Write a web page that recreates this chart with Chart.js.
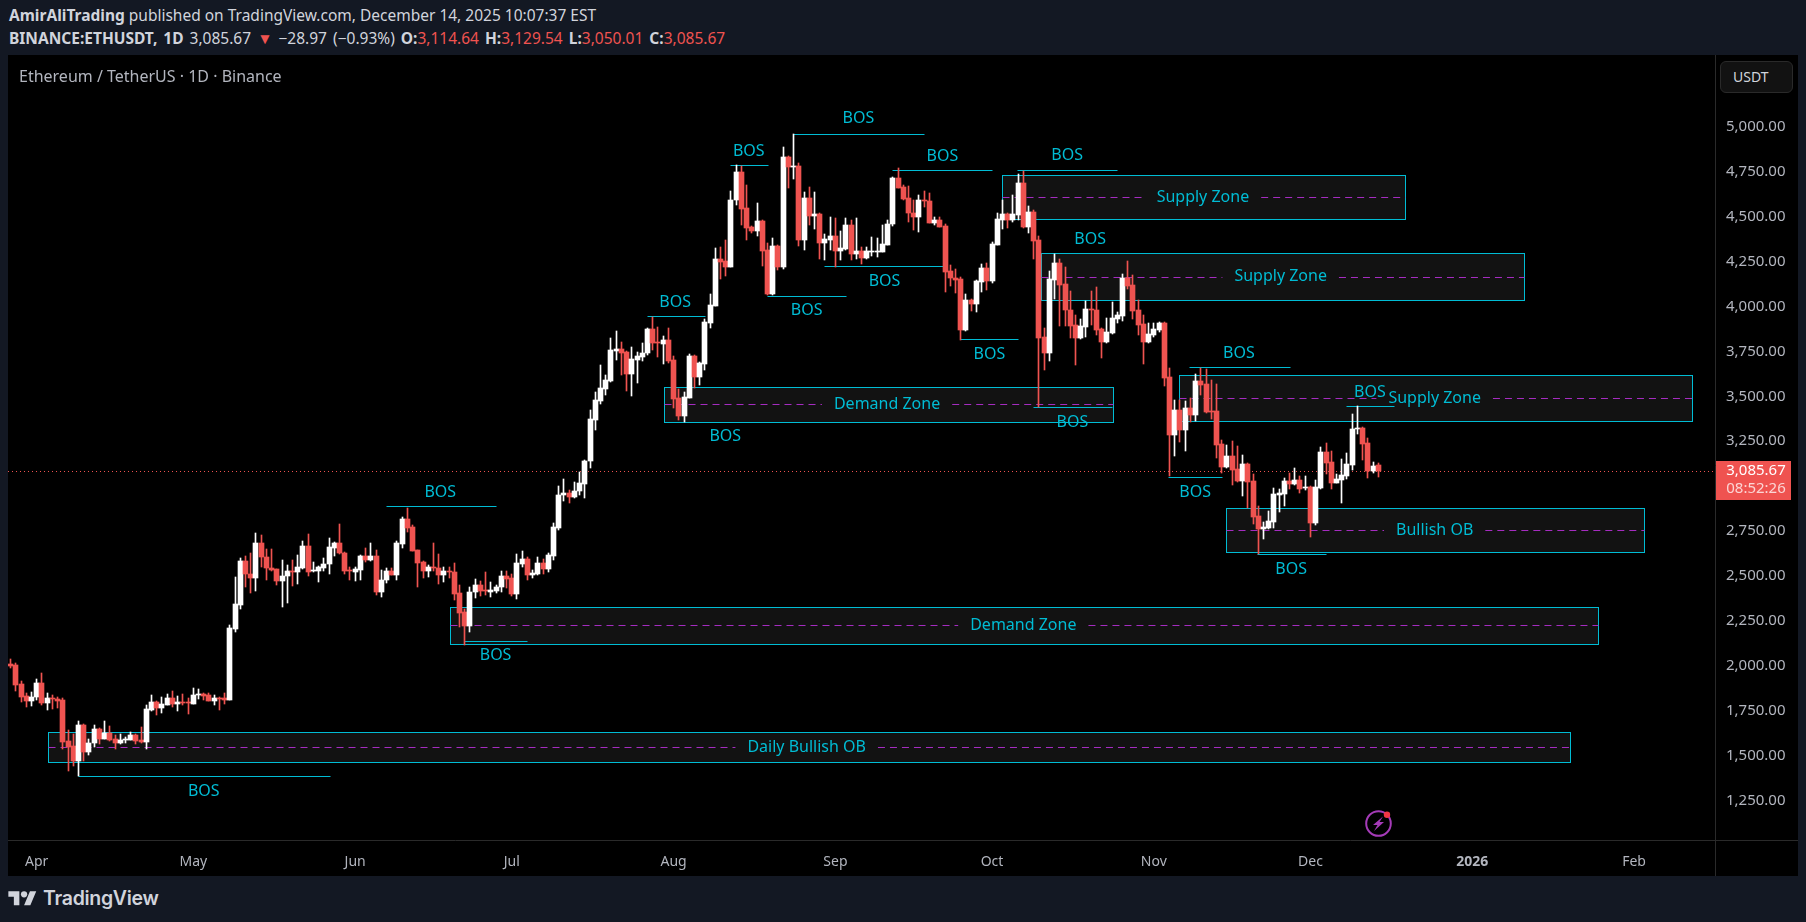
<!DOCTYPE html>
<html>
<head>
<meta charset="utf-8">
<title>ETHUSDT 1D</title>
<script src="https://cdn.jsdelivr.net/npm/chart.js@4/dist/chart.umd.min.js"></script>
<style>
    html, body { margin: 0; padding: 0; width: 1806px; height: 922px; overflow: hidden; background: #131823; }
    body { font-family: "Noto Sans", sans-serif; color: #d1d4dc; }
    #line1, #line2 { position: absolute; left: 9px; font-size: 15.5px; white-space: nowrap; line-height: 20px; }
    #line1 { top: 5px; }
    #line2 { top: 28px; word-spacing: 2px; }
    #panel { position: absolute; left: 8px; top: 55px; width: 1790px; height: 821px; background: #000; }
    #chart { position: absolute; left: 8px; top: 55px; }
    #title { position: absolute; left: 19px; top: 66px; font-size: 16px; color: #b2b5be; line-height: 20px; }
    #unit { position: absolute; left: 1720px; top: 61px; width: 59px; height: 30px; padding-left: 12px; border: 1px solid #2a2a2a; border-radius: 6px; background: #121212; font-size: 14px; line-height: 30px; color: #d1d4dc; }
    #logo { position: absolute; left: 8px; top: 888px; }
    #logoText { position: absolute; left: 43px; top: 884px; font-family: Inter, sans-serif; font-size: 19.5px; font-weight: 600; line-height: 28px; color: #d1d4dc; letter-spacing: -0.3px; }
    #bolt { position: absolute; left: 1362px; top: 808px; }
    b { font-weight: 700; }
    .down { color: #ef5350; }
</style>
</head>
<body>
<div id="line1"><b>AmirAliTrading</b> published on TradingView.com, December 14, 2025 10:07:37 EST</div>
<div id="line2"><b>BINANCE:ETHUSDT, 1D</b> 3,085.67 <span class="down">▼</span> −28.97 (−0.93%) <b>O:</b><span class="down">3,114.64</span> <b>H:</b><span class="down">3,129.54</span> <b>L:</b><span class="down">3,050.01</span> <b>C:</b><span class="down">3,085.67</span></div>
<div id="panel"></div>
<canvas id="chart" width="1790" height="821"></canvas>
<div id="title">Ethereum / TetherUS · 1D · Binance</div>
<div id="unit">USDT</div>
<svg id="logo" width="29" height="22" viewBox="0 0 36 28"><path fill="#d1d4dc" d="M14 22H7V11H0V4h14v18zM28 22h-8l7.5-18h8L28 22z"/><circle fill="#d1d4dc" cx="20" cy="8" r="4"/></svg>
<div id="logoText">TradingView</div>
<svg id="bolt" width="34" height="32" viewBox="0 0 34 32">
    <circle cx="16.5" cy="15.5" r="12.3" fill="none" stroke="#a53bb8" stroke-width="2"/>
    <path fill="#a53bb8" d="M21 8.5 L11 17 L15.5 17 L12 23 L22 14 L17.5 14 Z"/>
    <circle cx="25" cy="6.8" r="3.2" fill="#f23645"/>
</svg>
<script>
// days counted from Apr 1 2025, first candle is Mar 27, last is Dec 14
const firstDay = -5
const days = Array.from({ length: 327 }, (_, i) => i + firstDay)

const opens = [
    2010,2003,1897,1830,1804,1824,1904,1793,1821,1818,
    1808,1580,1552,1470,1671,1520,1568,1648,1593,1626,
    1590,1570,1587,1587,1615,1587,1577,1755,1799,1765,
    1784,1821,1788,1799,1799,1790,1838,1843,1836,1804,
    1821,1820,1810,2207,2340,2583,2513,2489,2683,2608,
    2547,2537,2472,2497,2528,2522,2547,2667,2526,2530,
    2547,2564,2658,2683,2630,2532,2523,2535,2611,2589,
    2611,2411,2475,2528,2505,2680,2817,2770,2642,2575,
    2528,2550,2544,2505,2528,2522,2403,2297,2221,2408,
    2450,2421,2413,2418,2436,2500,2486,2400,2568,2594,
    2506,2513,2572,2539,2613,2769,2948,2962,2939,2970,
    3014,3137,3370,3476,3543,3587,3754,3763,3744,3624,
    3704,3720,3738,3874,3801,3793,3813,3700,3488,3390,
    3492,3724,3607,3682,3910,4005,4264,4250,4221,4590,
    4748,4545,4440,4422,4475,4312,4069,4336,4219,4831,
    4776,4781,4370,4603,4505,4514,4353,4372,4392,4308,
    4320,4453,4292,4308,4269,4303,4304,4304,4344,4456,
    4715,4662,4601,4522,4497,4592,4587,4464,4481,4445,
    4195,4160,4150,3869,4036,4013,4138,4214,4141,4344,
    4483,4514,4481,4511,4687,4442,4525,4367,3827,3740,
    4149,4241,4122,3982,3894,3824,3887,3985,3980,3872,
    3801,3854,3932,3948,4158,4117,3978,3900,3801,3842,
    3870,3907,3605,3284,3423,3312,3434,3395,3585,3566,
    3416,3416,3232,3106,3167,3093,3028,3123,3026,2831,
    2764,2768,2802,2952,2958,3028,3011,3034,2988,2995,
    2794,2991,3189,3132,3017,3036,3058,3120,3318,3323,
    3238,3085,3114.64
]
const highs = [
    2038,2014,1915,1849,1852,1927,1960,1849,1838,1826,
    1821,1643,1620,1693,1675,1593,1671,1654,1693,1665,
    1615,1620,1604,1632,1620,1659,1782,1838,1804,1826,
    1843,1860,1832,1843,1821,1876,1871,1849,1849,1838,
    1826,1849,2227,2494,2600,2611,2628,2739,2728,2650,
    2650,2540,2589,2561,2589,2617,2695,2734,2578,2556,
    2600,2711,2689,2789,2636,2550,2550,2617,2656,2683,
    2644,2533,2544,2544,2695,2828,2878,2784,2646,2583,
    2561,2683,2622,2550,2550,2572,2450,2316,2439,2483,
    2472,2522,2466,2450,2528,2528,2511,2622,2639,2605,
    2533,2605,2594,2628,2795,3001,3040,2978,3023,3079,
    3145,3424,3524,3674,3618,3824,3863,3802,3752,3774,
    3746,3796,3880,3943,3885,3835,3880,3724,3540,3524,
    3735,3728,3690,3930,4069,4325,4331,4370,4642,4787,
    4781,4676,4447,4575,4480,4353,4381,4342,4887,4835,
    4958,4798,4637,4664,4637,4518,4403,4498,4492,4420,
    4492,4481,4492,4331,4331,4386,4381,4453,4481,4720,
    4770,4676,4670,4592,4620,4642,4631,4498,4498,4459,
    4230,4208,4164,4069,4040,4147,4236,4241,4358,4520,
    4592,4518,4620,4737,4753,4559,4536,4391,3879,4197,
    4291,4263,4219,4085,3952,3930,4030,4085,4108,3878,
    3935,4024,3968,4180,4252,4174,4035,3952,3907,3907,
    3913,3913,3657,3479,3479,3473,3490,3623,3657,3651,
    3590,3568,3256,3228,3251,3223,3173,3128,3067,2889,
    2800,2861,2989,2983,3045,3073,3100,3056,3056,3000,
    3034,3217,3239,3195,3067,3150,3184,3401,3445,3329,
    3267,3134,3129.54
]
const lows = [
    1988,1862,1800,1773,1776,1810,1782,1754,1760,1765,
    1537,1415,1442,1387,1470,1504,1548,1565,1590,1583,
    1537,1565,1570,1585,1565,1570,1537,1749,1726,1737,
    1780,1771,1749,1782,1732,1786,1815,1810,1802,1782,
    1754,1788,1808,2188,2316,2439,2405,2416,2550,2478,
    2530,2450,2327,2350,2444,2455,2540,2500,2520,2466,
    2528,2511,2611,2622,2511,2478,2472,2478,2578,2583,
    2394,2383,2461,2503,2478,2656,2745,2637,2439,2489,
    2494,2528,2455,2466,2489,2366,2218,2116,2188,2377,
    2388,2394,2383,2405,2411,2433,2388,2372,2550,2477,
    2489,2503,2511,2522,2589,2756,2917,2906,2935,2951,
    2934,3101,3312,3457,3507,3579,3702,3618,3529,3501,
    3574,3696,3730,3757,3718,3680,3685,3435,3368,3357,
    3488,3546,3563,3646,3880,4000,4152,4169,4218,4564,
    4453,4370,4410,4392,4225,4065,4063,4203,4208,4659,
    4709,4336,4314,4453,4431,4264,4258,4314,4219,4258,
    4314,4258,4264,4236,4265,4280,4275,4300,4340,4450,
    4657,4592,4470,4425,4414,4553,4462,4453,4440,4080,
    4113,4075,3813,3865,3974,3969,4080,4091,4130,4340,
    4431,4436,4470,4481,4436,4408,4263,3440,3646,3696,
    4041,3891,3891,3824,3674,3818,3829,3896,3840,3712,
    3796,3846,3907,3918,4096,3930,3840,3679,3796,3829,
    3857,3557,3056,3167,3245,3195,3356,3362,3507,3406,
    3373,3156,3072,3100,3006,3022,2945,2878,2789,2622,
    2705,2764,2766,2855,2889,2983,3008,2961,2978,2716,
    2783,2983,3067,2983,3015,2906,3039,3089,3290,3145,
    3045,3075,3050.01
]
const closes = [
    2000,1893,1826,1804,1826,1904,1793,1821,1816,1804,
    1576,1550,1470,1671,1520,1570,1648,1593,1626,1587,
    1570,1587,1593,1615,1582,1577,1760,1799,1765,1788,
    1821,1788,1799,1794,1793,1838,1843,1834,1804,1821,
    1815,1810,2210,2344,2583,2511,2489,2683,2606,2544,
    2533,2472,2500,2528,2522,2550,2667,2522,2533,2550,
    2567,2661,2683,2628,2528,2526,2539,2611,2589,2611,
    2411,2478,2528,2505,2683,2817,2767,2639,2572,2528,
    2550,2545,2505,2528,2522,2400,2294,2221,2411,2450,
    2416,2416,2422,2439,2500,2484,2400,2572,2594,2505,
    2516,2572,2539,2617,2772,2951,2962,2939,2973,3017,
    3140,3373,3479,3546,3590,3757,3763,3741,3624,3707,
    3724,3741,3874,3796,3797,3813,3696,3485,3390,3496,
    3724,3607,3685,3913,4008,4264,4248,4221,4592,4748,
    4542,4436,4420,4475,4308,4069,4336,4219,4831,4776,
    4781,4370,4603,4503,4514,4353,4375,4392,4308,4325,
    4453,4292,4308,4269,4308,4308,4308,4347,4459,4715,
    4659,4598,4520,4497,4592,4587,4464,4481,4442,4191,
    4158,4147,3869,4036,4013,4141,4214,4141,4347,4486,
    4514,4481,4514,4687,4442,4525,4364,3824,3740,4152,
    4241,4119,3980,3891,3824,3891,3985,3980,3868,3801,
    3857,3935,3952,4158,4113,3974,3896,3801,3846,3874,
    3907,3601,3284,3423,3312,3434,3395,3585,3562,3412,
    3412,3228,3106,3167,3089,3028,3123,3022,2828,2761,
    2772,2805,2956,2961,3028,3011,3034,2983,2995,2794,
    2995,3189,3128,3017,3039,3061,3123,3317,3323,3234,
    3085,3114,3085.67
]

const priceTicks = [5000, 4750, 4500, 4250, 4000, 3750, 3500, 3250, 2750, 2500, 2250, 2000, 1750, 1500, 1250]
const tickDays = [0, 30, 61, 91, 122, 153, 183, 214, 244, 275, 306]
const tickNames = ['Apr', 'May', 'Jun', 'Jul', 'Aug', 'Sep', 'Oct', 'Nov', 'Dec', '2026', 'Feb']

const lastPrice = 3085.67
const lastPriceText = '3,085.67'
const countdownText = '08:52:26'

// supply / demand boxes drawn on the chart
const zoneText = ['Daily Bullish OB', 'Demand Zone', 'Demand Zone', 'Supply Zone', 'Supply Zone', 'Supply Zone', 'Bullish OB']
const zoneStart = [2.2, 79.1, 120.1, 185, 192.3, 218.9, 227.9]
const zoneEnd = [293.8, 299, 206.1, 262.1, 285, 317, 307.9]
const zoneTop = [1630, 2325, 3550, 4729, 4295, 3616, 2876]
const zoneBottom = [1463, 2119, 3359, 4484, 4037, 3360, 2631]
const zoneMid = [1546, 2225, 3455, 4607, 4165, 3488, 2753]
const zoneTextDay = [147.5, 189, 162.9, 223.4, 238.3, 267.8, 267.8]

// break of structure lines, null means only the text is there
const bosStart = [7.9, 66.9, 81.8, 116.9, null, 132.8, 144.9, 163.9, 187.8, 139.9, 150.8, 176.9, 190.8, null, 220.8, 216.8, 250.8, 233.8]
const bosEnd = [56.1, 88, 94, 128, null, 140, 170, 183, 207, 155, 173.6, 188, 206, null, 240, 227, 260, 246.9]
const bosPrice = [1385, 2887, 2136, 3945, null, 4785, 4958, 4757, 4757, 4056, 4223, 3817, 3440, null, 3661, 3048, 3444, 2620]
const bosTextDay = [32, 77.3, 87.9, 122.3, 131.9, 136.4, 157.4, 173.5, 197.4, 147.5, 162.4, 182.5, 198.4, 201.8, 230.3, 221.9, 255.4, 240.3]
const bosTextPrice = [1303, 2967, 2058, 4024, 3276, 4862, 5044, 4836, 4842, 3976, 4139, 3735, 3356, 4374, 3740, 2966, 3523, 2538]

const upColor = '#ffffff'
const downColor = '#ef5350'
const drawColor = '#00bcd4'
const candleColors = opens.map((o, i) => closes[i] >= o ? upColor : downColor)
const axisFont = '"Noto Sans", sans-serif'

// keep candles on whole pixels, otherwise the 1px wicks go blurry
const snapCandles = {
    id: 'snapCandles',
    beforeDatasetDraw(chart, args) {
        args.meta.data.forEach(bar => {
            bar.x = Math.floor(bar.x) + 0.5
            bar.y = Math.round(bar.y)
            bar.base = Math.round(bar.base)
            if (bar.y === bar.base) bar.base = bar.y + 1
        })
    }
}

const drawings = {
    id: 'drawings',
    beforeDatasetsDraw(chart) {
        const { ctx, scales: { x, y }, chartArea } = chart
        const dayX = d => Math.round(x.getPixelForValue(d - firstDay)) + 0.5
        const priceY = p => Math.round(y.getPixelForValue(p)) + 0.5

        ctx.save()
        ctx.font = '16px ' + axisFont
        ctx.textAlign = 'center'
        ctx.textBaseline = 'middle'
        ctx.lineWidth = 1

        zoneText.forEach((text, i) => {
            const left = dayX(zoneStart[i])
            const right = dayX(zoneEnd[i])
            const top = priceY(zoneTop[i])
            const bottom = priceY(zoneBottom[i])
            const mid = priceY(zoneMid[i])
            const textX = x.getPixelForValue(zoneTextDay[i] - firstDay)
            const gap = ctx.measureText(text).width / 2 + 12

            ctx.fillStyle = '#121212'
            ctx.fillRect(left, top, right - left, bottom - top)
            ctx.strokeStyle = drawColor
            ctx.setLineDash([])
            ctx.strokeRect(left, top, right - left, bottom - top)

            ctx.strokeStyle = '#a52cc0'
            ctx.setLineDash([7, 5])
            ctx.beginPath()
            ctx.moveTo(left, mid)
            ctx.lineTo(textX - gap, mid)
            ctx.moveTo(textX + gap, mid)
            ctx.lineTo(right, mid)
            ctx.stroke()

            ctx.fillStyle = drawColor
            ctx.fillText(text, textX, y.getPixelForValue(zoneMid[i]))
        })

        ctx.setLineDash([])
        ctx.strokeStyle = drawColor
        ctx.fillStyle = drawColor
        bosTextDay.forEach((day, i) => {
            if (bosStart[i] !== null) {
                ctx.beginPath()
                ctx.moveTo(dayX(bosStart[i]), priceY(bosPrice[i]))
                ctx.lineTo(dayX(bosEnd[i]), priceY(bosPrice[i]))
                ctx.stroke()
            }
            ctx.fillText('BOS', x.getPixelForValue(day - firstDay), y.getPixelForValue(bosTextPrice[i]))
        })

        // dotted last price line
        ctx.strokeStyle = downColor
        ctx.setLineDash([1, 3])
        ctx.beginPath()
        ctx.moveTo(chartArea.left, priceY(lastPrice))
        ctx.lineTo(chartArea.right, priceY(lastPrice))
        ctx.stroke()
        ctx.restore()
    },
    afterDraw(chart) {
        const { ctx, scales: { y }, chartArea, width, height } = chart

        ctx.save()
        ctx.strokeStyle = '#2a2a2a'
        ctx.lineWidth = 1
        ctx.beginPath()
        ctx.moveTo(0, chartArea.bottom + 0.5)
        ctx.lineTo(width, chartArea.bottom + 0.5)
        ctx.moveTo(chartArea.right + 0.5, 0)
        ctx.lineTo(chartArea.right + 0.5, height)
        ctx.stroke()

        // last price tag on the axis
        const tagY = y.getPixelForValue(lastPrice)
        ctx.fillStyle = downColor
        ctx.fillRect(chartArea.right + 1, Math.round(tagY) - 10, 75, 39)
        ctx.font = '15px ' + axisFont
        ctx.textAlign = 'center'
        ctx.textBaseline = 'middle'
        ctx.fillStyle = '#ffffff'
        ctx.fillText(lastPriceText, chartArea.right + 41, tagY)
        ctx.fillStyle = '#fbd5d4'
        ctx.fillText(countdownText, chartArea.right + 41, tagY + 18)
        ctx.restore()
    }
}

new Chart(document.getElementById('chart'), {
    type: 'bar',
    data: {
        labels: days,
        datasets: [
            {
                label: 'Wick',
                data: opens.map((_, i) => [lows[i], highs[i]]),
                backgroundColor: candleColors,
                barThickness: 1,
                grouped: false,
                order: 2
            },
            {
                label: 'Body',
                data: opens.map((o, i) => [o, closes[i]]),
                backgroundColor: candleColors,
                barThickness: 5,
                minBarLength: 1,
                grouped: false,
                order: 1
            }
        ]
    },
    options: {
        responsive: false,
        animation: false,
        layout: { padding: 0 },
        plugins: { legend: { display: false }, tooltip: { enabled: false } },
        scales: {
            x: {
                grid: { display: false },
                border: { display: false },
                afterFit(scale) {
                    scale.height = 36
                    scale.paddingLeft = 0
                    scale.paddingRight = 0
                },
                ticks: {
                    autoSkip: false,
                    maxRotation: 0,
                    padding: 6,
                    color: '#b2b5be',
                    font: ctx => ({
                        family: axisFont,
                        size: 14,
                        weight: ctx.tick && ctx.tick.label === '2026' ? 'bold' : 'normal'
                    }),
                    callback(value) {
                        const at = tickDays.indexOf(value + firstDay)
                        return at === -1 ? '' : tickNames[at]
                    }
                }
            },
            y: {
                position: 'right',
                min: 1030.6,
                max: 5399,
                grid: { display: false },
                border: { display: false },
                afterBuildTicks(scale) {
                    scale.ticks = priceTicks.map(value => ({ value }))
                },
                afterFit(scale) {
                    scale.width = 83
                    scale.paddingTop = 0
                    scale.paddingBottom = 0
                },
                ticks: {
                    padding: 3,
                    color: '#b2b5be',
                    font: { family: axisFont, size: 15 },
                    callback(value) {
                        return value.toLocaleString('en-US', { minimumFractionDigits: 2, maximumFractionDigits: 2 })
                    }
                }
            }
        }
    },
    plugins: [snapCandles, drawings]
})
</script>
</body>
</html>
